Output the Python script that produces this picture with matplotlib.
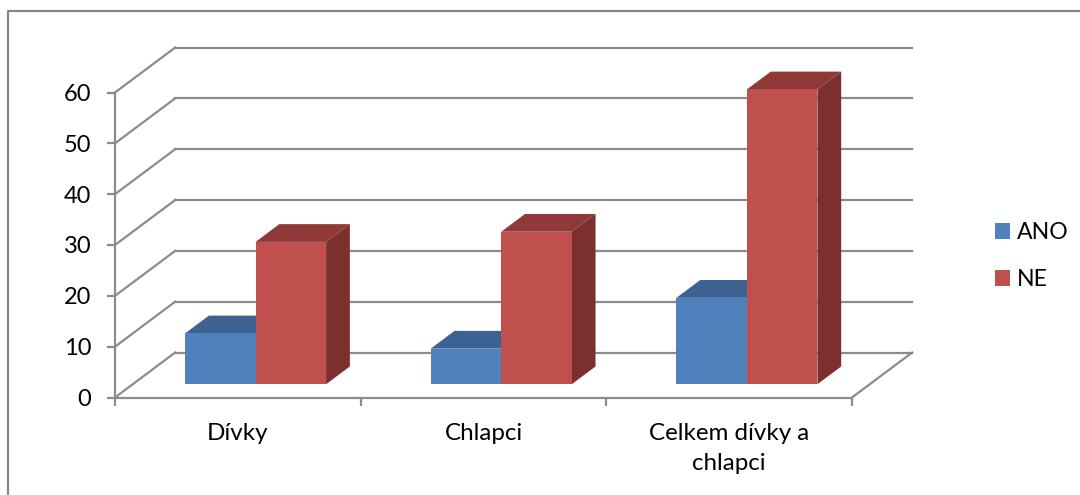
import matplotlib
matplotlib.use("Agg")
import matplotlib.pyplot as plt
from matplotlib.lines import Line2D
from matplotlib.patches import Patch, Polygon

plt.rcParams['font.family'] = ['Lato', 'DejaVu Sans']

categories = ['Dívky', 'Chlapci', 'Celkem dívky a\nchlapci']
ano = [10, 7, 17]
ne = [28, 30, 58]
y_ticks = [0, 10, 20, 30, 40, 50, 60]

GREY = '#8c8c8c'
BLUE = ('#4f81bd', '#3c6291', '#3a5f8b')
RED = ('#c0504d', '#8f3a38', '#7c302e')
FONT = 17
LINE = 1.6

# oblique depth of the floor, in data units
DEPTH_X = 0.245
DEPTH_Y = 8.85
BAR_W = 0.287
# the bars sit between these fractions of the depth
NEAR = 0.295
FAR = 0.69

fig = plt.figure(figsize=(10.8, 4.95), dpi=100)
ax = fig.add_axes([115 / 1080, 1 - 397.5 / 495, 737 / 1080, 305 / 495])
ax.set_xlim(0, 3)
ax.set_ylim(0, 60)
ax.patch.set_visible(False)


def shifted(x, y, frac):
    return x + DEPTH_X * frac, y + DEPTH_Y * frac


def draw_bar(x, value, colors, z):
    x0, y0 = shifted(x, 0, NEAR)
    x1, y1 = shifted(x + BAR_W, 0, NEAR)
    ytop = y0 + value
    shift_x = DEPTH_X * (FAR - NEAR)
    shift_y = DEPTH_Y * (FAR - NEAR)
    front = [(x0, y0), (x1, y0), (x1, ytop), (x0, ytop)]
    top = [(x0, ytop), (x1, ytop), (x1 + shift_x, ytop + shift_y), (x0 + shift_x, ytop + shift_y)]
    side = [(x1, y0), (x1 + shift_x, y0 + shift_y), (x1 + shift_x, ytop + shift_y), (x1, ytop)]
    for pts, col in ((top, colors[1]), (side, colors[2]), (front, colors[0])):
        ax.add_patch(Polygon(pts, closed=True, facecolor=col, edgecolor='none',
                             clip_on=False, zorder=z))


# back wall and left wall gridlines
for v in y_ticks:
    ax.plot([0, DEPTH_X], [v, v + DEPTH_Y], color=GREY, lw=LINE, clip_on=False, zorder=1)
    ax.plot([DEPTH_X, 3 + DEPTH_X], [v + DEPTH_Y, v + DEPTH_Y], color=GREY, lw=LINE,
            clip_on=False, zorder=1)
ax.plot([3, 3 + DEPTH_X], [0, DEPTH_Y], color=GREY, lw=LINE, clip_on=False, zorder=1)

for i in range(len(categories)):
    center = i + 0.5
    draw_bar(center - BAR_W, ano[i], BLUE, 3)
    draw_bar(center, ne[i], RED, 4)

for side in ('top', 'right'):
    ax.spines[side].set_visible(False)
for side in ('left', 'bottom'):
    ax.spines[side].set_color(GREY)
    ax.spines[side].set_linewidth(LINE)

ax.set_yticks(y_ticks)
ax.tick_params(axis='y', length=6, width=LINE, color=GREY, labelsize=FONT, pad=11)
ax.set_xticks(range(len(categories) + 1))
ax.set_xticklabels([])
ax.tick_params(axis='x', which='major', length=6, width=LINE, color=GREY)
ax.set_xticks([i + 0.5 for i in range(len(categories))], minor=True)
ax.set_xticklabels(categories, minor=True, fontsize=17.4, linespacing=1.55)
ax.tick_params(axis='x', which='minor', length=0, pad=18)

handles = [Patch(facecolor=BLUE[0], label='ANO'), Patch(facecolor=RED[0], label='NE')]
fig.legend(handles=handles, loc='upper left', bbox_to_anchor=(995 / 1080, 1 - 222 / 495),
           frameon=False, fontsize=16.6, handlelength=0.65, handleheight=0.65,
           handletextpad=0.3, labelspacing=1.14, borderpad=0, borderaxespad=0)

# outer chart border, only its top and left edges are in frame
fig.add_artist(Line2D([8 / 1080, 8 / 1080, 1], [0, 1 - 11 / 495, 1 - 11 / 495],
                      color='#868686', lw=1.6))

fig.savefig('out.png', dpi=100, facecolor='white')
